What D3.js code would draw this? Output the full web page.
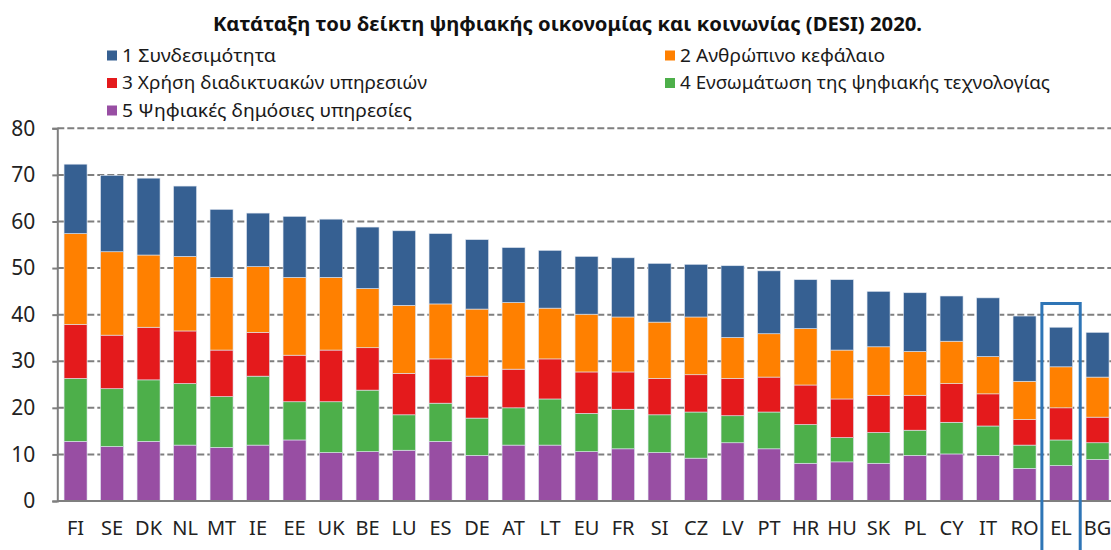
<!DOCTYPE html>
<html>
<head>
<meta charset="utf-8">
<script src="https://cdn.jsdelivr.net/npm/d3@7"></script>
<style>
  html, body { margin: 0; padding: 0; background: #fff; }
  svg { display: block; }
</style>
</head>
<body>
<svg id="chart" width="1111" height="550"></svg>
<script>
// ---- Data (DESI 2020) ----
const categories = ["FI","SE","DK","NL","MT","IE","EE","UK","BE","LU","ES","DE","AT","LT","EU","FR","SI","CZ","LV","PT","HR","HU","SK","PL","CY","IT","RO","EL","BG"];
const connectivity   = [14.9,16.4,16.5,15.1,14.6,11.5,13.1,12.5,13.2,16.0,15.1,14.9,11.8,12.4,12.4,12.7,12.6,11.3,15.4,13.5,10.5,15.1,11.9,12.6, 9.7,12.6,14.0, 8.5, 9.6];
const humanCapital   = [19.5,17.9,15.5,16.0,15.6,14.1,16.7,15.6,12.7,14.6,11.8,14.4,14.3,10.9,12.4,11.8,12.1,12.4, 8.8, 9.3,12.1,10.5,10.4, 9.4, 9.1, 8.0, 8.2, 8.8, 8.6];
const internetUse    = [11.6,11.5,11.3,11.3,10.0, 9.4,10.0,11.1, 9.1, 8.9, 9.5, 9.0, 8.3, 8.6, 8.9, 8.0, 7.8, 8.0, 8.0, 7.5, 8.5, 8.3, 8.0, 7.5, 8.3, 6.9, 5.5, 6.9, 5.5];
const integration    = [13.5,12.4,13.2,13.2,10.9,14.8, 8.2,10.9,13.2, 7.6, 8.2, 8.0, 8.0, 9.9, 8.2, 8.5, 8.1, 9.9, 5.8, 7.9, 8.3, 5.2, 6.6, 5.4, 6.8, 6.3, 5.0, 5.5, 3.6];
const publicServices = [12.8,11.7,12.8,12.0,11.5,12.0,13.1,10.4,10.6,10.9,12.8, 9.8,12.0,12.0,10.6,11.2,10.4, 9.2,12.5,11.2, 8.1, 8.4, 8.1, 9.8,10.1, 9.8, 7.0, 7.6, 8.9];
const seriesNames = ["1 Συνδεσιμότητα","2 Ανθρώπινο κεφάλαιο","3 Χρήση διαδικτυακών υπηρεσιών","4 Ενσωμάτωση της ψηφιακής τεχνολογίας","5 Ψηφιακές δημόσιες υπηρεσίες"];
const yTicks = [0,10,20,30,40,50,60,70,80];
const titleText = "Κατάταξη του δείκτη ψηφιακής οικονομίας και κοινωνίας (DESI) 2020.";
const highlightCategory = "EL";
const highlightTop = 42.4;

// ---- Styles ----
const colors = ["#366092","#ff8000","#e41a1c","#4daf4a","#984ea3"];
const keys = ["c1","c2","c3","c4","c5"];
const seriesArrays = [connectivity, humanCapital, internetUse, integration, publicServices];

const rows = categories.map((c, i) => {
  const r = {cat: c};
  keys.forEach((k, j) => r[k] = seriesArrays[j][i]);
  return r;
});

const svg = d3.select("#chart");
const plotLeft = 57.3, plotBottom = 501, plotTop = 128.3;
const step = 36.5;
const x = d3.scaleBand().domain(categories)
  .range([plotLeft, plotLeft + step * categories.length])
  .paddingInner(0.37).paddingOuter(0.185);
const y = d3.scaleLinear().domain([0, 80]).range([plotBottom, plotTop]);

// gridlines
svg.append("g").selectAll("line").data(yTicks.filter(t => t > 0)).join("line")
  .attr("x1", plotLeft).attr("x2", 1111)
  .attr("y1", d => y(d)).attr("y2", d => y(d))
  .attr("stroke", "#7f7f7f").attr("stroke-width", 2)
  .attr("stroke-dasharray", "7,3");

// stacked bars: bottom = 5, top = 1
const stackOrder = ["c5","c4","c3","c2","c1"];
const stack = d3.stack().keys(stackOrder);
const stacked = stack(rows);
const colorOf = k => colors[keys.indexOf(k)];
svg.append("g").selectAll("g").data(stacked).join("g")
  .attr("fill", d => colorOf(d.key))
  .selectAll("rect").data(d => d).join("rect")
  .attr("x", d => x(d.data.cat))
  .attr("width", x.bandwidth())
  .attr("y", d => y(d[1]))
  .attr("height", d => y(d[0]) - y(d[1]))
  .attr("stroke", "#dfe6f0").attr("stroke-width", 0.6);

// axes lines
const yAxis = d3.axisLeft(y).tickValues(yTicks).tickSize(5).tickPadding(17);
const gy = svg.append("g").attr("transform", `translate(${plotLeft},0)`).call(yAxis);
gy.select(".domain").attr("stroke", "#7f7f7f").attr("stroke-width", 2);
gy.selectAll(".tick line").attr("stroke", "#7f7f7f").attr("stroke-width", 2);
gy.selectAll(".tick text").attr("font-family", "'Noto Sans', sans-serif")
  .attr("font-size", 21).attr("fill", "#222");

svg.append("line").attr("x1", plotLeft).attr("x2", 1111)
  .attr("y1", plotBottom).attr("y2", plotBottom)
  .attr("stroke", "#7f7f7f").attr("stroke-width", 2);

const xAxis = d3.axisBottom(x).tickSize(0).tickPadding(20);
const gx = svg.append("g").attr("transform", `translate(0,${plotBottom})`).call(xAxis);
gx.select(".domain").remove();
gx.selectAll(".tick text").attr("font-family", "'Noto Sans', sans-serif")
  .attr("font-size", 20).attr("fill", "#222");

// title
svg.append("text").attr("x", 213).attr("y", 31)
  .attr("font-family", "'Noto Sans', sans-serif").attr("font-weight", "bold")
  .attr("font-size", 19.5).attr("fill", "#111")
  .attr("textLength", 709).attr("lengthAdjust", "spacingAndGlyphs")
  .text(titleText);

// legend
const legendPos = [
  {x: 107, y: 55.5, w: 154}, {x: 665, y: 55.5, w: 205},
  {x: 107, y: 83, w: 305}, {x: 665, y: 83, w: 370},
  {x: 107, y: 110.5, w: 290}
];
const lg = svg.append("g").selectAll("g").data(seriesNames).join("g")
  .attr("transform", (d, i) => `translate(${legendPos[i].x},${legendPos[i].y})`);
lg.append("rect").attr("x", 0).attr("y", -5).attr("width", 10).attr("height", 10)
  .attr("fill", (d, i) => colors[i]);
lg.append("text").attr("x", 15).attr("y", 0).attr("dy", "0.35em")
  .attr("font-family", "'Noto Sans', sans-serif").attr("font-size", 18).attr("fill", "#1a1a1a")
  .attr("textLength", (d, i) => legendPos[i].w).attr("lengthAdjust", "spacingAndGlyphs")
  .text(d => d);

// highlight box around EL
const hx = x(highlightCategory) + x.bandwidth() / 2;
const hw = step * 0.525;
svg.append("path")
  .attr("d", d3.line()([[hx - hw, 560], [hx - hw, y(highlightTop)], [hx + hw, y(highlightTop)], [hx + hw, 560]]))
  .attr("fill", "none").attr("stroke", "#2e75b6").attr("stroke-width", 3);
</script>
</body>
</html>
